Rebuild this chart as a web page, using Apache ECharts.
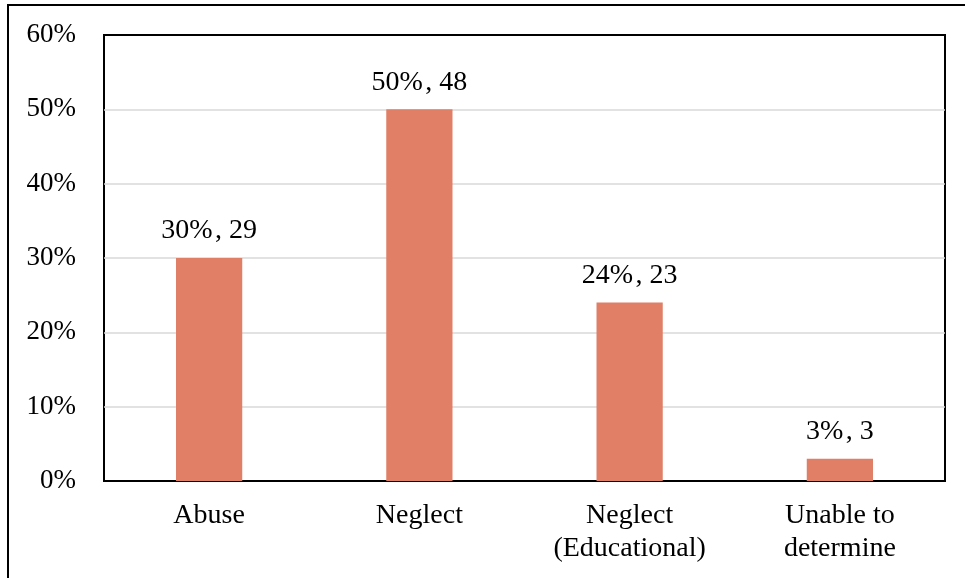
<!DOCTYPE html>
<html>
<head>
<meta charset="utf-8">
<style>
  html, body { margin: 0; padding: 0; background: #fff; }
  #chart { width: 965px; height: 578px; }
</style>
<script src="https://cdn.jsdelivr.net/npm/echarts@6/dist/echarts.min.js"></script>
</head>
<body>
<div id="chart"></div>
<script>
// Maltreatment type: share of cases and count
const categories = ['Abuse', 'Neglect', 'Neglect\n(Educational)', 'Unable to\ndetermine'];
const percentValues = [30, 50, 24, 3];
const counts = [29, 48, 23, 3];
const yTickMax = 60;
const yTickStep = 10;

const chart = echarts.init(document.getElementById('chart'), null, { renderer: 'canvas' });
const font = '"Liberation Serif", "Times New Roman", serif';

chart.setOption({
  animation: false,
  backgroundColor: '#ffffff',
  graphic: [{
    type: 'rect',
    shape: { x: 8, y: 5, width: 1100, height: 700 },
    style: { fill: 'none', stroke: '#000', lineWidth: 2 },
    silent: true
  }],
  grid: {
    left: 104, right: 20, top: 35, bottom: 97,
    show: true, borderColor: '#000', borderWidth: 2, backgroundColor: 'transparent'
  },
  xAxis: {
    type: 'category',
    data: categories,
    axisLine: { show: false },
    axisTick: { show: false },
    axisLabel: {
      color: '#000', fontFamily: font, fontSize: 28, lineHeight: 33, margin: 18
    }
  },
  yAxis: {
    type: 'value',
    min: 0, max: yTickMax, interval: yTickStep,
    axisLine: { show: false },
    axisTick: { show: false },
    splitLine: { showMinLine: false, showMaxLine: false, lineStyle: { color: '#d9d9d9', width: 1.5 } },
    axisLabel: {
      color: '#000', fontFamily: font, fontSize: 27, margin: 28,
      formatter: v => v + '%'
    }
  },
  series: [{
    type: 'bar',
    data: percentValues,
    barWidth: '31.5%',
    itemStyle: { color: '#e07e66' },
    label: {
      show: true,
      position: 'top',
      distance: 13,
      color: '#000', fontFamily: font, fontSize: 28,
      formatter: p => percentValues[p.dataIndex] + '%\u200A, ' + counts[p.dataIndex]
    }
  }]
});
</script>
</body>
</html>
